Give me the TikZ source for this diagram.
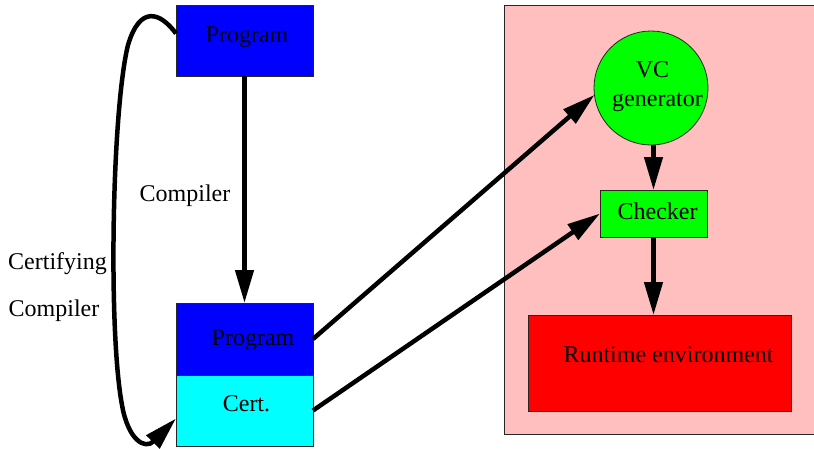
\documentclass[tikz,border=0pt]{standalone}
\usepackage{fontspec}
\setmainfont{Liberation Serif}
\usetikzlibrary{arrows.meta}
\definecolor{pinkbg}{RGB}{255,191,191}
\definecolor{progblue}{RGB}{0,0,255}
\definecolor{certcyan}{RGB}{0,255,255}
\definecolor{vcgreen}{RGB}{0,255,0}
\definecolor{rtred}{RGB}{255,0,0}
\begin{document}
\begin{tikzpicture}[x=1pt,y=-1pt,
  box/.style={draw=black!85,line width=0.8pt,inner sep=0pt,outer sep=0pt},
  txt/.style={font=\fontsize{24}{28}\selectfont,inner sep=0pt,anchor=base},
  conn/.style={line width=4.5pt,-{Triangle[length=33pt,width=18pt]}},
]
\useasboundingbox (0,0) rectangle (814,448);
% environment background
\node[box,fill=pinkbg,minimum width=310pt,minimum height=429pt] (env) at (659,219.5) {};
% boxes
\node[box,fill=progblue,minimum width=137pt,minimum height=71pt] (prog1) at (244.5,40.5) {};
\node[box,fill=progblue,minimum width=137pt,minimum height=72pt] (prog2) at (244.5,339) {};
\node[box,fill=certcyan,minimum width=137pt,minimum height=71pt] (cert) at (244.5,410.5) {};
\node[box,fill=vcgreen,circle,minimum size=114pt] (vc) at (651,88) {};
\node[box,fill=vcgreen,minimum width=107pt,minimum height=47pt] (checker) at (653.5,213.5) {};
\node[box,fill=rtred,minimum width=263pt,minimum height=96pt] (rt) at (659.5,363) {};
% texts
\node[txt] (tprog1) at (247,42) {Program};
\node[txt] (tprog2) at (253,345) {Program};
\node[txt] (tcert) at (246.5,411) {Cert.};
\node[txt] (tvc1) at (652.5,77) {VC};
\node[txt] (tvc2) at (657.5,106) {generator};
\node[txt] (tchk) at (657.5,219) {Checker};
\node[txt] (trt) at (668.5,362) {Runtime environment};
\node[txt] (tcomp) at (185,201) {Compiler};
\node[txt] (tcert1) at (57.5,269) {Certifying};
\node[txt] (tcert2) at (54,316) {Compiler};
% connectors
\draw[conn] (prog1.south) -- (prog2.north);
\draw[conn] (vc.south -| checker.north) -- (checker.north);
\draw[conn] (checker.south) -- (rt.north -| checker.south);
\draw[conn] (prog2.east) -- (vc.187);
\draw[conn] (cert.east) -- (checker.west);
\draw[conn] ([yshift=7pt]prog1.west) .. controls (160,12) and (140,5) .. (128,45)
  .. controls (112,110) and (108,330) .. (122,405)
  .. controls (128,440) and (145,450) .. ([yshift=-8pt]cert.west);
\end{tikzpicture}
\end{document}
